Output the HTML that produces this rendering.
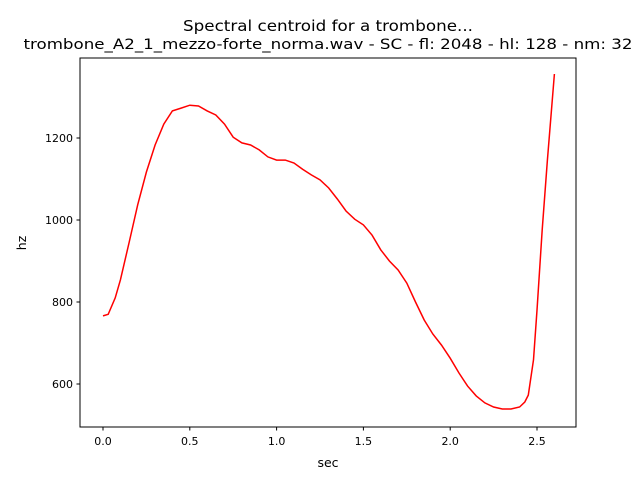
<!DOCTYPE html>
<html><head><meta charset="utf-8"><style>
body{margin:0;background:#fff}
svg{font-family:"DejaVu Sans","Liberation Sans",sans-serif}
</style></head><body>
<svg id="chart" width="640" height="480">
<rect width="640" height="480" fill="#fff"/>
<text x="328" y="31" text-anchor="middle" font-size="15" textLength="290" lengthAdjust="spacingAndGlyphs">Spectral centroid for a trombone...</text>
<text x="328" y="49" text-anchor="middle" font-size="14.5" textLength="609" lengthAdjust="spacingAndGlyphs">trombone_A2_1_mezzo-forte_norma.wav - SC - fl: 2048 - hl: 128 - nm: 32</text>
<g id="ticks"></g>
<path id="line" fill="none" stroke="#ff0000" stroke-width="1.5"/>
<rect x="80" y="58" width="496" height="369" fill="none" stroke="#000" stroke-width="1"/>
<text x="328" y="467" text-anchor="middle" font-size="12.5">sec</text>
<text transform="translate(26,243) rotate(-90)" text-anchor="middle" font-size="12.5">hz</text>
</svg>
<script>
const times=[0,0.03,0.07,0.1,0.15,0.2,0.25,0.3,0.35,0.4,0.45,0.5,0.55,0.6,0.65,0.7,0.75,0.8,0.85,0.9,0.95,1.0,1.05,1.1,1.15,1.2,1.25,1.3,1.35,1.4,1.45,1.5,1.55,1.6,1.65,1.7,1.75,1.8,1.85,1.9,1.95,2.0,2.05,2.1,2.15,2.2,2.25,2.3,2.35,2.4,2.43,2.45,2.48,2.5,2.53,2.56,2.6];
const hz=[766,770,810,854,944,1037,1117,1183,1234,1266,1273,1280,1278,1266,1256,1234,1202,1188,1183,1171,1154,1146,1146,1139,1124,1110,1098,1078,1051,1022,1002,988,963,927,900,878,846,800,756,722,695,663,627,595,571,554,544,539,539,544,556,573,659,780,976,1146,1356];
const xTicks=[0,0.5,1.0,1.5,2.0,2.5];
const xTickLabels=["0.0","0.5","1.0","1.5","2.0","2.5"];
const yTicks=[600,800,1000,1200];
const yTickLabels=["600","800","1000","1200"];
const X=t=>103+(t-0)*173.6;
const Y=v=>384-(v-600)*0.41;
const NS="http://www.w3.org/2000/svg";
const g=document.getElementById('ticks');
function mk(tag,attrs){const e=document.createElementNS(NS,tag);for(const k in attrs)e.setAttribute(k,attrs[k]);return e;}
xTicks.forEach((t,i)=>{
  const l=mk('line',{x1:X(t),x2:X(t),y1:427,y2:430.5,stroke:'#000'});
  
  
  g.appendChild(l);
  const tx=mk('text',{x:X(t),y:445,'text-anchor':'middle','font-size':'11'});
  
  
  tx.textContent=xTickLabels[i];g.appendChild(tx);
});
yTicks.forEach((v,i)=>{
  const l=mk('line',{x1:76.5,x2:80,y1:Y(v),y2:Y(v),stroke:'#000'});
  
  
  g.appendChild(l);
  const tx=mk('text',{x:73,y:Y(v)+4,'text-anchor':'end','font-size':'11'});
  
  
  tx.textContent=yTickLabels[i];g.appendChild(tx);
});
document.getElementById('line').setAttribute('d',times.map((t,i)=>(i?'L':'M')+X(t).toFixed(1)+','+Y(hz[i]).toFixed(1)).join(' '));
</script>
</body></html>
